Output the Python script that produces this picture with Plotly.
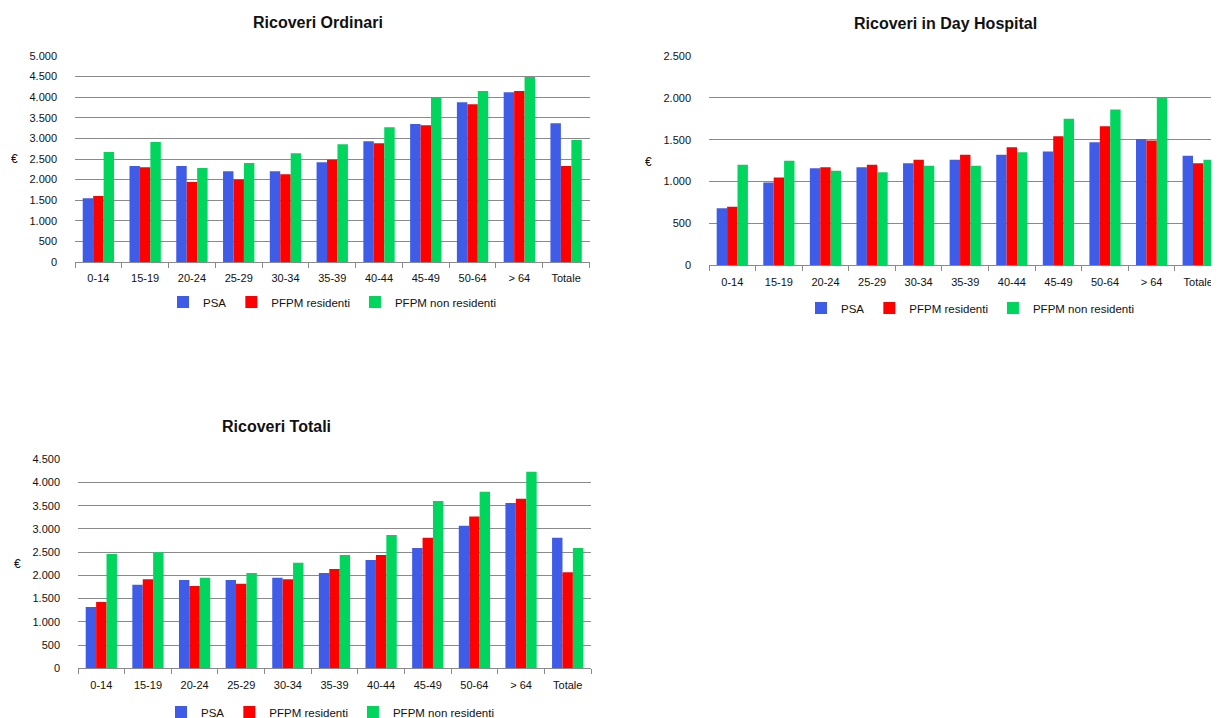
import plotly.graph_objects as go

categories = ["0-14", "15-19", "20-24", "25-29", "30-34", "35-39", "40-44", "45-49", "50-64", "> 64", "Totale"]
series_names = ["PSA", "PFPM residenti", "PFPM non residenti"]

# Ricoveri Ordinari
ord_psa = [1550, 2330, 2330, 2200, 2200, 2420, 2930, 3350, 3880, 4120, 3370]
ord_res = [1600, 2300, 1940, 2000, 2130, 2480, 2880, 3320, 3830, 4150, 2330]
ord_nonres = [2670, 2910, 2280, 2400, 2640, 2860, 3270, 3990, 4150, 4490, 2960]

# Ricoveri in Day Hospital
dh_psa = [680, 990, 1160, 1170, 1220, 1260, 1320, 1360, 1470, 1510, 1310]
dh_res = [700, 1050, 1170, 1200, 1260, 1320, 1410, 1540, 1660, 1490, 1220]
dh_nonres = [1200, 1250, 1130, 1110, 1190, 1190, 1350, 1750, 1860, 2000, 1260]

# Ricoveri Totali
tot_psa = [1320, 1800, 1900, 1900, 1950, 2050, 2330, 2590, 3070, 3560, 2810]
tot_res = [1430, 1920, 1770, 1820, 1920, 2140, 2440, 2810, 3270, 3650, 2070]
tot_nonres = [2460, 2500, 1950, 2050, 2270, 2440, 2870, 3600, 3800, 4230, 2590]

titles = ["Ricoveri Ordinari", "Ricoveri in Day Hospital", "Ricoveri Totali"]
y_ranges = [5000, 2500, 4500]
y_dtick = 500

colors = ["#3F5CE8", "#FF0000", "#00D65E"]
FONT = "Liberation Sans, Arial, sans-serif"
GRID = "#8A8A8A"

# page offset of the figure (default body margin) and figure size
OFF = 8
W, H = 1216, 740

def fx(px):
    return (px - OFF) / W

def fy(py):
    return (H - (py - OFF)) / H

panels = [
    dict(data=[ord_psa, ord_res, ord_nonres], x=(75, 589.5), y=(56, 262),
         title=(318, 22), euro=(14, 159), legend=(332, 302)),
    dict(data=[dh_psa, dh_res, dh_nonres], x=(709, 1221.5), y=(56, 265.3),
         title=(945, 23), euro=(648, 162), legend=(970, 308)),
    dict(data=[tot_psa, tot_res, tot_nonres], x=(78, 591), y=(459.3, 668.3),
         title=(276, 426), euro=(17, 564), legend=(330, 712)),
]

fig = go.Figure()
annotations = []
layout = {}

for i, p in enumerate(panels):
    n = "" if i == 0 else str(i + 1)
    leg = "legend" if i == 0 else f"legend{i + 1}"
    for s, (vals, name) in enumerate(zip(p["data"], series_names)):
        fig.add_trace(go.Bar(
            x=categories, y=vals, name=name,
            marker=dict(color=colors[s], line=dict(width=0)),
            xaxis=f"x{n}", yaxis=f"y{n}", legend=leg,
        ))
    layout[f"xaxis{n}"] = dict(
        domain=[fx(p["x"][0]), fx(p["x"][1])], anchor=f"y{n}",
        showline=True, linecolor=GRID, linewidth=1,
        ticks="outside", tickson="boundaries", ticklen=5, tickcolor=GRID,
        showgrid=False, tickfont=dict(family=FONT, size=11, color="#111"),
        ticklabelstandoff=6, fixedrange=True, automargin=False,
    )
    layout[f"yaxis{n}"] = dict(
        domain=[fy(p["y"][1]), fy(p["y"][0])], anchor=f"x{n}",
        range=[0, y_ranges[i]], dtick=y_dtick, tick0=0,
        showgrid=True, gridcolor=GRID, gridwidth=1, zeroline=False,
        showline=False, ticks="", tickformat=",d",
        tickfont=dict(family=FONT, size=11, color="#111"),
        ticklabelstandoff=17, fixedrange=True, automargin=False,
    )
    layout[leg] = dict(
        orientation="h", x=fx(p["legend"][0]), y=fy(p["legend"][1]),
        xanchor="center", yanchor="middle",
        font=dict(family=FONT, size=11.5, color="#111"),
        bgcolor="rgba(0,0,0,0)", itemwidth=30, tracegroupgap=0,
        itemclick=False, itemdoubleclick=False,
    )
    annotations.append(dict(
        text=f"<b>{titles[i]}</b>", x=fx(p["title"][0]), y=fy(p["title"][1]),
        xref="paper", yref="paper", xanchor="center", yanchor="middle",
        showarrow=False, font=dict(family=FONT, size=16, color="#111"),
    ))
    annotations.append(dict(
        text="€", x=fx(p["euro"][0]), y=fy(p["euro"][1]),
        xref="paper", yref="paper", xanchor="center", yanchor="middle",
        showarrow=False, font=dict(family=FONT, size=12, color="#111"),
    ))

fig.update_layout(
    **layout,
    width=W, height=H, autosize=False,
    margin=dict(l=0, r=0, t=0, b=0, pad=0, autoexpand=False),
    paper_bgcolor="white", plot_bgcolor="white",
    barmode="group", bargap=0.33, bargroupgap=0,
    separators=",.",
    annotations=annotations,
    showlegend=True,
)

fig.write_html("out.html", config={"displayModeBar": False})
